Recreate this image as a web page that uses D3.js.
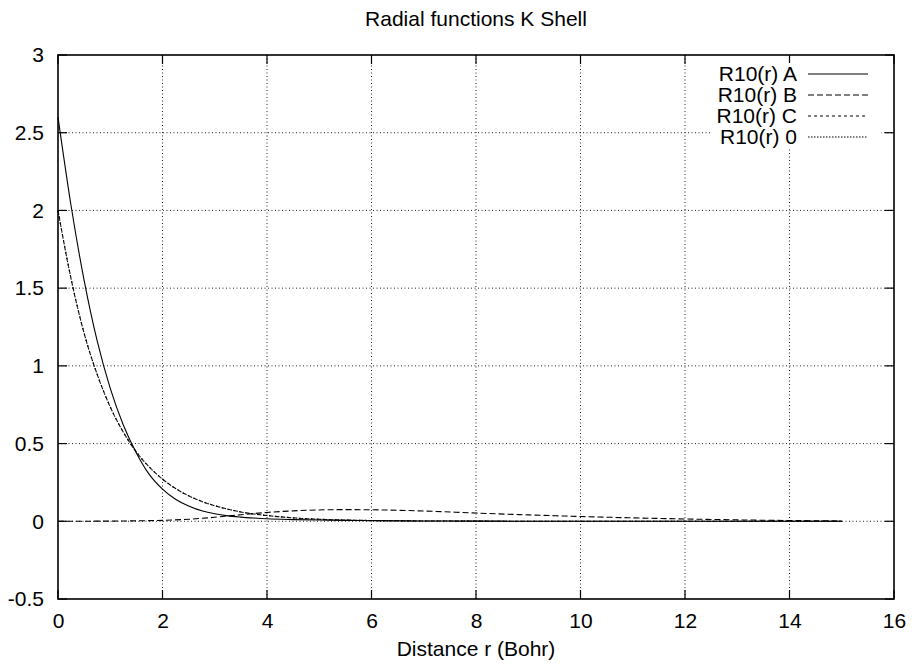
<!DOCTYPE html>
<html lang="en">
<head>
<meta charset="utf-8">
<title>Radial functions K Shell</title>
<script type="text/javascript" src="https://cdn.jsdelivr.net/npm/d3@7/dist/d3.min.js"></script>
<style>
    body {
        margin: 0;
        background: white;
    }
    text {
        font-family: "Liberation Sans", Arial, sans-serif;
        font-size: 21px;
        fill: black;
    }
    .axis path {
        display: none;
    }
    .axis line {
        display: none;
    }
    .grid {
        stroke: #222;
        stroke-width: 1;
        stroke-dasharray: 1, 2.5;
        fill: none;
    }
    .tick_in {
        stroke: black;
        stroke-width: 1.2;
    }
    .border {
        fill: none;
        stroke: black;
        stroke-width: 1.6;
    }
    .curve {
        fill: none;
        stroke: black;
        stroke-width: 1.1;
    }
</style>
</head>
<body>
<div id="graph"></div>
<script type="text/javascript">

// distance r (Bohr) where values were read
var r_points = [0, 0.25, 0.5, 0.75, 1, 1.25, 1.5, 1.75, 2, 2.25, 2.5, 2.75, 3, 3.25, 3.5, 3.75, 4,
                4.5, 5, 5.5, 6, 7, 8, 9, 10, 11, 12, 13, 14, 15];

var R10_A = [2.60, 2.03, 1.55, 1.16, 0.855, 0.62, 0.44, 0.30, 0.207, 0.142, 0.098, 0.068, 0.048, 0.035, 0.027, 0.021, 0.016,
             0.011, 0.008, 0.006, 0.004, 0.002, 0.001, 0.0005, 0, 0, 0, 0, 0, 0];
var R10_B = [0, 0, 0, 0.001, 0.001, 0.002, 0.003, 0.004, 0.006, 0.009, 0.013, 0.019, 0.026, 0.034, 0.042, 0.050, 0.057,
             0.067, 0.073, 0.075, 0.074, 0.066, 0.053, 0.041, 0.031, 0.022, 0.015, 0.009, 0.005, 0.002];
var R10_C = [2.00, 1.56, 1.21, 0.945, 0.736, 0.573, 0.446, 0.348, 0.271, 0.211, 0.164, 0.128, 0.10, 0.078, 0.060, 0.047, 0.037,
             0.022, 0.013, 0.008, 0.005, 0.002, 0.001, 0, 0, 0, 0, 0, 0, 0];
var R10_0 = [2.00, 1.56, 1.21, 0.945, 0.736, 0.573, 0.446, 0.348, 0.271, 0.211, 0.164, 0.128, 0.10, 0.078, 0.060, 0.047, 0.037,
             0.022, 0.013, 0.008, 0.005, 0.002, 0.001, 0, 0, 0, 0, 0, 0, 0];

var series_names = ["R10(r) A", "R10(r) B", "R10(r) C", "R10(r) 0"];
var series_values = [R10_A, R10_B, R10_C, R10_0];
var series_dash = ["none", "6,3", "3,3", "1.5,1.5"];

var x_ticks = [0, 2, 4, 6, 8, 10, 12, 14, 16];
var y_ticks = [-0.5, 0, 0.5, 1, 1.5, 2, 2.5, 3];

var margin = {top: 55, right: 18, bottom: 66, left: 58},
    width = 912 - margin.left - margin.right,
    height = 665 - margin.top - margin.bottom;

var svg = d3.select("#graph").append("svg")
    .attr("width", width + margin.left + margin.right)
    .attr("height", height + margin.top + margin.bottom)
    .append("g")
    .attr("transform", "translate(" + margin.left + "," + margin.top + ")");

var x_scale = d3.scaleLinear().domain([0, 16]).range([0, width]);
var y_scale = d3.scaleLinear().domain([-0.5, 3]).range([height, 0]);

// plain hyphen for negatives, like the original
var plain = function(d) { return String(d); };

// grid
svg.selectAll(".gx").data(x_ticks.slice(1, -1)).enter().append("line")
    .attr("class", "grid")
    .attr("x1", function(d) { return x_scale(d); })
    .attr("x2", function(d) { return x_scale(d); })
    .attr("y1", 0).attr("y2", height);

svg.selectAll(".gy").data(y_ticks.slice(1, -1)).enter().append("line")
    .attr("class", "grid")
    .attr("y1", function(d) { return y_scale(d); })
    .attr("y2", function(d) { return y_scale(d); })
    .attr("x1", 0).attr("x2", width);

// axes labels only, ticks drawn inward below
svg.append("g")
    .attr("class", "axis")
    .attr("transform", "translate(0," + height + ")")
    .call(d3.axisBottom(x_scale).tickValues(x_ticks).tickSize(0).tickPadding(14).tickFormat(plain));

svg.append("g")
    .attr("class", "axis")
    .call(d3.axisLeft(y_scale).tickValues(y_ticks).tickSize(0).tickPadding(14).tickFormat(plain));

svg.selectAll(".axis text")
    .style("font-size", "21px")
    .style("font-family", "'Liberation Sans', Arial, sans-serif")
    .attr("fill", "black");

var tick_len = 9;
x_ticks.forEach(function(d) {
    svg.append("line").attr("class", "tick_in")
        .attr("x1", x_scale(d)).attr("x2", x_scale(d))
        .attr("y1", height).attr("y2", height - tick_len);
    svg.append("line").attr("class", "tick_in")
        .attr("x1", x_scale(d)).attr("x2", x_scale(d))
        .attr("y1", 0).attr("y2", tick_len);
});
y_ticks.forEach(function(d) {
    svg.append("line").attr("class", "tick_in")
        .attr("y1", y_scale(d)).attr("y2", y_scale(d))
        .attr("x1", 0).attr("x2", tick_len);
    svg.append("line").attr("class", "tick_in")
        .attr("y1", y_scale(d)).attr("y2", y_scale(d))
        .attr("x1", width).attr("x2", width - tick_len);
});

// curves
var line = d3.line()
    .x(function(d) { return x_scale(d[0]); })
    .y(function(d) { return y_scale(d[1]); })
    .curve(d3.curveMonotoneX);

series_values.forEach(function(vals, i) {
    var pts = r_points.map(function(r, j) { return [r, vals[j]]; });
    svg.append("path")
        .datum(pts)
        .attr("class", "curve")
        .attr("stroke-dasharray", series_dash[i])
        .attr("d", line);
});

// key
var key = svg.append("g").attr("transform", "translate(" + (width - 182) + ",8)");
key.append("rect")
    .attr("x", 0).attr("y", 0)
    .attr("width", 169).attr("height", 84)
    .attr("fill", "white");

series_names.forEach(function(name, i) {
    var yy = 11 + i * 21;
    key.append("text")
        .attr("x", 85)
        .attr("y", yy)
        .attr("dy", "0.35em")
        .attr("text-anchor", "end")
        .text(name);
    key.append("line")
        .attr("class", "curve")
        .attr("x1", 96).attr("x2", 156)
        .attr("y1", yy).attr("y2", yy)
        .attr("stroke-dasharray", series_dash[i]);
});

// border
svg.append("rect")
    .attr("class", "border")
    .attr("x", 0).attr("y", 0)
    .attr("width", width).attr("height", height);

// title
svg.append("text")
    .attr("x", width / 2)
    .attr("y", -29)
    .attr("text-anchor", "middle")
    .text("Radial functions K Shell");

// x label
svg.append("text")
    .attr("x", width / 2)
    .attr("y", height + 57)
    .attr("text-anchor", "middle")
    .text("Distance r (Bohr)");

</script>
</body>
</html>
